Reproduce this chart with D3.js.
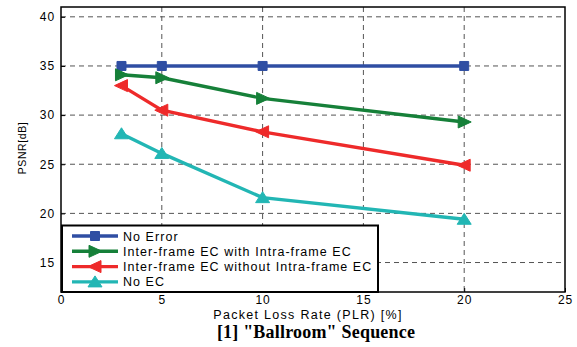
<!DOCTYPE html>
<html>
<head>
<meta charset="utf-8">
<script src="https://cdn.jsdelivr.net/npm/d3@7"></script>
<style>
  body { margin: 0; background: #fff; }
  svg { display: block; }
</style>
</head>
<body>
<div id="chart"></div>
<script>
// PSNR vs packet loss rate, "Ballroom" sequence
const width = 577, height = 347;
const margin = {top: 7, right: 12, bottom: 55, left: 61};

const plr = [3, 5, 10, 20];
const seriesNames = [
  "No Error",
  "Inter-frame EC with Intra-frame EC",
  "Inter-frame EC without Intra-frame EC",
  "No EC"
];
const noError = [35, 35, 35, 35];
const withIntra = [34.1, 33.8, 31.7, 29.3];
const withoutIntra = [33.0, 30.5, 28.3, 24.9];
const noEC = [28.1, 26.1, 21.6, 19.4];
const xTicks = [0, 5, 10, 15, 20, 25];
const yTicks = [15, 20, 25, 30, 35, 40];

const colors = ["#2f4ea3", "#168039", "#ee2a2a", "#22b6b4"];
const markers = ["square", "right", "left", "up"];
const series = [noError, withIntra, withoutIntra, noEC].map((vals, i) => ({
  name: seriesNames[i], color: colors[i], marker: markers[i],
  points: vals.map((v, j) => ({x: plr[j], y: v}))
}));

const svg = d3.select("#chart").append("svg")
  .attr("width", width).attr("height", height);

const x = d3.scaleLinear().domain([0, 25]).range([margin.left, width - margin.right]);
const y = d3.scaleLinear().domain([12, 41]).range([height - margin.bottom, margin.top]);

const plotL = x(0), plotR = x(25), plotT = y(41), plotB = y(12);

// grid
const grid = svg.append("g").attr("stroke", "#555").attr("stroke-width", 1).attr("stroke-dasharray", "5,4");
xTicks.slice(1, -1).forEach(t => {
  grid.append("line").attr("x1", x(t)).attr("x2", x(t)).attr("y1", plotT).attr("y2", plotB);
});
yTicks.forEach(t => {
  grid.append("line").attr("x1", plotL).attr("x2", plotR).attr("y1", y(t)).attr("y2", y(t));
});

// axes
const axisFont = "Liberation Sans, Arial, sans-serif";
const xAxis = svg.append("g").attr("transform", `translate(0,${plotB})`)
  .call(d3.axisBottom(x).tickValues(xTicks).tickSizeInner(-4).tickSizeOuter(0).tickPadding(3.5));
const yAxis = svg.append("g").attr("transform", `translate(${plotL},0)`)
  .call(d3.axisLeft(y).tickValues(yTicks).tickSizeInner(-4).tickSizeOuter(0).tickPadding(6));
[xAxis, yAxis].forEach(a => {
  a.select(".domain").remove();
  a.selectAll("line").attr("stroke", "#000");
  a.selectAll("text").attr("font-family", axisFont).attr("font-size", 12)
    .attr("letter-spacing", 0.9).attr("fill", "#000");
});

// frame
svg.append("rect").attr("x", plotL).attr("y", plotT)
  .attr("width", plotR - plotL).attr("height", plotB - plotT)
  .attr("fill", "none").attr("stroke", "#000").attr("stroke-width", 1.5);

function markerPath(type, s) {
  const h = s / 2;
  if (type === "square") return `M${-h},${-h}H${h}V${h}H${-h}Z`;
  if (type === "right") return `M${-h},${-h}L${h + 1},0L${-h},${h}Z`;
  if (type === "left") return `M${h},${-h}L${-h - 1},0L${h},${h}Z`;
  return `M${-h - 1},${h - 1}L0,${-h}L${h + 1},${h - 1}Z`;
}

const line = d3.line().x(d => x(d.x)).y(d => y(d.y));

series.forEach(s => {
  svg.append("path").datum(s.points).attr("d", line)
    .attr("fill", "none").attr("stroke", s.color).attr("stroke-width", 3.4);
  svg.append("g").selectAll("path").data(s.points).join("path")
    .attr("transform", d => `translate(${x(d.x)},${y(d.y)})`)
    .attr("d", markerPath(s.marker, s.marker === "square" ? 9 : 12))
    .attr("fill", s.color).attr("stroke", s.color).attr("stroke-width", 1);
});

// legend
const legend = svg.append("g").attr("transform", `translate(${plotL + 1},225.5)`);
legend.append("rect").attr("x", 0).attr("y", 0)
  .attr("width", 316).attr("height", plotB - 225.5)
  .attr("fill", "#fff").attr("stroke", "#000").attr("stroke-width", 2);
series.forEach((s, i) => {
  const ly = 10.5 + i * 15.3;
  legend.append("line").attr("x1", 10).attr("x2", 56).attr("y1", ly).attr("y2", ly)
    .attr("stroke", s.color).attr("stroke-width", 3.4);
  legend.append("path").attr("transform", `translate(33,${ly})`)
    .attr("d", markerPath(s.marker, s.marker === "square" ? 9 : 12))
    .attr("fill", s.color).attr("stroke", s.color);
  legend.append("text").attr("x", 61).attr("y", ly + 4.5)
    .attr("font-family", axisFont).attr("font-size", 12.5).attr("letter-spacing", 1.05)
    .text(s.name);
});

// labels
svg.append("text").attr("x", 308).attr("y", 318.5)
  .attr("text-anchor", "middle").attr("font-family", axisFont).attr("font-size", 12.5)
  .attr("letter-spacing", 1.3)
  .text("Packet Loss Rate (PLR) [%]");
svg.append("text").attr("transform", "rotate(-90)").attr("x", -148).attr("y", 26)
  .attr("text-anchor", "middle").attr("font-family", axisFont).attr("font-size", 10.5)
  .attr("letter-spacing", 0.6)
  .text("PSNR[dB]");
svg.append("text").attr("x", 316).attr("y", 338)
  .attr("text-anchor", "middle").attr("font-family", "Liberation Serif, Times New Roman, serif")
  .attr("font-weight", "bold").attr("font-size", 18)
  .attr("letter-spacing", 0.2)
  .text("[1] \"Ballroom\" Sequence");
</script>
</body>
</html>
